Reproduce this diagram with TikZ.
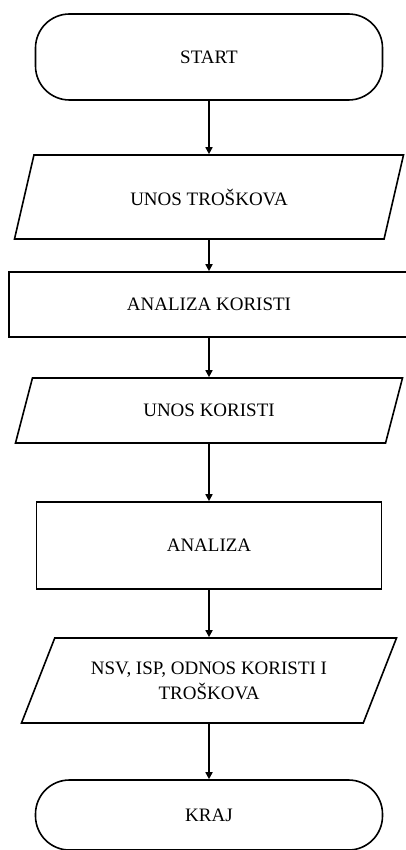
\documentclass[tikz,border=0pt]{standalone}
\usepackage{fontspec}
\setmainfont{Liberation Serif}
\usetikzlibrary{shapes.geometric,arrows.meta}

\tikzset{
	terminal/.style={draw, rectangle, rounded corners=17pt, minimum width=173.5pt},
	process/.style={draw, rectangle},
	inout/.style={draw, trapezium, trapezium left angle=57, trapezium right angle=123,
		trapezium stretches body, align=center},
	flow/.style={-{Triangle[length=3.5pt,width=3.5pt]}}
}

\begin{document}
\begin{tikzpicture}[x=0.5pt, y=-0.5pt, line width=0.8pt,
		every node/.style={font=\fontsize{9.5pt}{12.5pt}\selectfont}]
				      % Frame
				      \useasboundingbox (0,0) rectangle (406,850);

				      % Start and end
				      \node[terminal, minimum height=43pt] (start) at (209,57) {START};
				      \node[terminal, minimum height=35pt] (kraj) at (209,815) {KRAJ};

				      % Input and output
				      \node[inout, minimum width=194.5pt, minimum height=42pt] (unosT) at (209,197) {UNOS TROŠKOVA};
				      \node[inout, minimum width=193.5pt, minimum height=32.5pt] (unosK) at (209,410.5) {UNOS KORISTI};
				      \node[inout, minimum width=187.5pt, minimum height=42.5pt] (izlaz) at (209,680.5) {NSV, ISP, ODNOS KORISTI I\\TROŠKOVA};

				      % Processing steps
				      \node[process, minimum width=200pt, minimum height=32.5pt] (anaK) at (209,304.5) {ANALIZA KORISTI};
				      \node[process, minimum width=172.5pt, minimum height=43.5pt] (ana) at (209,545.5) {ANALIZA};

				      % Arrows from step to step
				      \foreach \a/\b in {start/unosT, unosT/anaK, anaK/unosK, unosK/ana, ana/izlaz, izlaz/kraj}
				      \draw[flow] (\a) -- (\b);

			      \end{tikzpicture}
\end{document}
